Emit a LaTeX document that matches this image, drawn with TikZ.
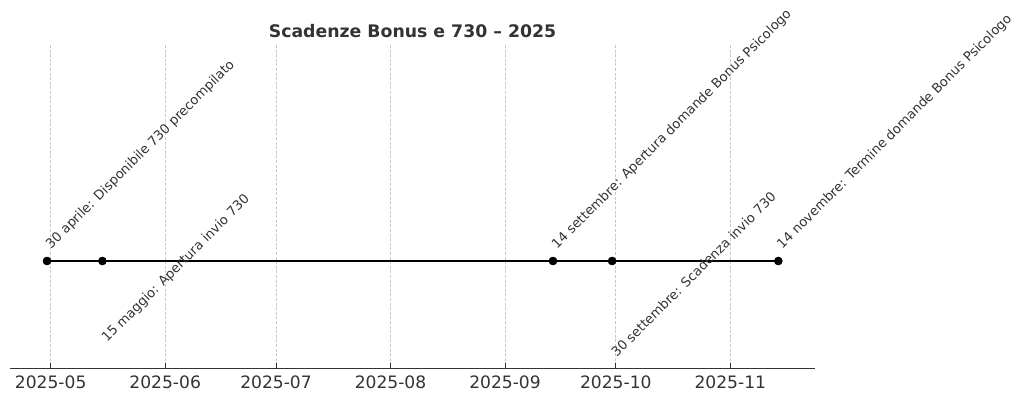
\documentclass[tikz,border=0pt]{standalone}
\usepackage{fontspec}
\setmainfont{DejaVu Sans}
\usetikzlibrary{positioning}
\definecolor{textgray}{RGB}{51,51,51}
\definecolor{gridgray}{RGB}{200,200,200}

\begin{document}
\begin{tikzpicture}[x=1pt, y=-1pt,
    evdot/.style={circle, fill=black, inner sep=0pt, minimum size=8.4pt},
    evlabel/.style={rotate=45, anchor=base west, inner sep=0pt, text=textgray,
                    font=\fontsize{13.1}{15}\selectfont},
    monthlabel/.style={anchor=base, inner sep=0pt, text=textgray,
                       font=\fontsize{17.1}{19}\selectfont},
    gridline/.style={gridgray, line width=0.7pt, dash pattern=on 3pt off 1.6pt}
]
\useasboundingbox (0,0) rectangle (1024,401);

% title
\node[anchor=base, inner sep=0pt, text=textgray, font=\fontsize{17.3}{19}\bfseries]
     (title) at (412.5,37.5) {Scadenze Bonus e 730 -- 2025};

% month grid, ticks and labels
\foreach \mx/\mname [count=\i] in {50.7/2025-05, 165.2/2025-06, 276.0/2025-07,
                                   390.5/2025-08, 505.0/2025-09, 615.8/2025-10, 730.3/2025-11} {
  \draw[gridline] (\mx,45) -- (\mx,368);
  \draw[textgray, line width=0.8pt] (\mx,368) -- (\mx,363);
  \node[monthlabel] (m\i) at (\mx,388) {\mname};
}

% x axis
\coordinate (axl) at (10,368);
\coordinate (axr) at (815,368);
\draw[textgray, line width=1pt] (axl) -- (axr);

% events
\foreach \ex [count=\i] in {47.0, 102.4, 553.0, 612.1, 778.3}
  \node[evdot] (d\i) at (\ex,261) {};
\draw[black, line width=1.5pt] (d1.center) -- (d5.center);
\foreach \i in {1,...,5}
  \node[evdot] at (d\i) {};

% labels above the line
\node[evlabel] (l1) at ([xshift=4pt,yshift=11.5pt]d1.center) {30 aprile: Disponibile 730 precompilato};
\node[evlabel] (l3) at ([xshift=4pt,yshift=11.5pt]d3.center) {14 settembre: Apertura domande Bonus Psicologo};
\node[evlabel] (l5) at ([xshift=4pt,yshift=11.5pt]d5.center) {14 novembre: Termine domande Bonus Psicologo};

% labels below the line
\node[evlabel] (l2) at ([xshift=4.5pt,yshift=-82pt]d2.center) {15 maggio: Apertura invio 730};
\node[evlabel] (l4) at ([xshift=4.7pt,yshift=-97pt]d4.center) {30 settembre: Scadenza invio 730};
\end{tikzpicture}
\end{document}
